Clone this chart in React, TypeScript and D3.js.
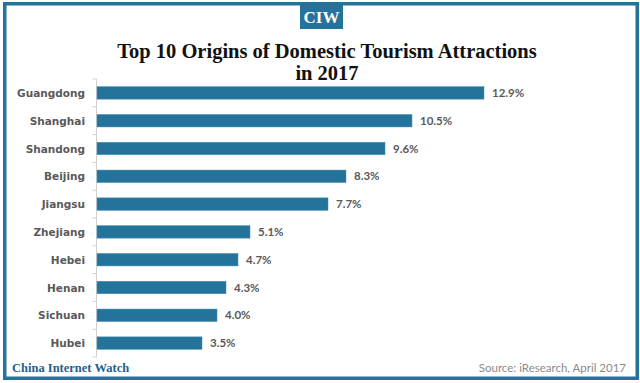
import React from "react";
import * as d3 from "d3";

const categories = ["Guangdong", "Shanghai", "Shandong", "Beijing", "Jiangsu", "Zhejiang", "Hebei", "Henan", "Sichuan", "Hubei"];
const values = [12.9, 10.5, 9.6, 8.3, 7.7, 5.1, 4.7, 4.3, 4.0, 3.5];
const titleLines = ["Top 10 Origins of Domestic Tourism Attractions", "in 2017"];
const brand = "CIW";
const footerLeft = "China Internet Watch";
const footerRight = "Source: iResearch, April 2017";

const W = 640, H = 383;
const BLUE = "#23739b";
const GREY = "#595959";

export default function App() {
  const x = d3.scaleLinear().domain([0, 1]).range([97, 127]);
  const y = d3.scaleBand<string>().domain(categories).range([79, 357]).paddingInner(0.55).paddingOuter(0.275);
  const step = y.step();
  const boundaries = d3.range(categories.length + 1).map((i) => 79 + i * step);
  const sans = "'Century Gothic', 'Lato', 'Open Sans', sans-serif";
  return (
    <svg width={W} height={H} style={{ position: "absolute", left: 0, top: 0, background: "#fff" }}>
      <rect x={0} y={0} width={W} height={H} fill="#fff" />
      <rect x={4.75} y={3.75} width={632.5} height={374.5} fill="none" stroke={BLUE} strokeWidth={3.5} />
      <rect x={300} y={4} width={43} height={25} fill={BLUE} />
      <text x={321.5} y={23} textAnchor="middle" fill="#fff" fontFamily="'Liberation Serif', serif" fontWeight="bold" fontSize={17}>{brand}</text>
      {titleLines.map((t, i) => (
        <text key={i} x={327} y={58 + i * 22} textAnchor="middle" fill="#111" fontFamily="'Liberation Serif', serif" fontWeight="bold" fontSize={20.5}>{t}</text>
      ))}
      <line x1={96.5} x2={96.5} y1={79} y2={357} stroke="#d0d0d0" strokeWidth={1} />
      {boundaries.map((b, i) => (
        <line key={i} x1={92.5} x2={96.5} y1={b} y2={b} stroke="#d0d0d0" strokeWidth={1} />
      ))}
      {categories.map((c, i) => {
        const yy = y(c)!;
        const bw = y.bandwidth();
        return (
          <g key={c}>
            <rect x={x(0)} y={yy} width={x(values[i]) - x(0)} height={bw} fill={BLUE} stroke="#4a93b8" strokeWidth={0.5} />
            <text x={85} y={yy + bw / 2 + 4} textAnchor="end" fill={GREY} fontFamily="'DejaVu Sans', sans-serif" fontWeight="bold" fontSize={10.5}>{c}</text>
            <text x={x(values[i]) + 8} y={yy + bw / 2 + 4} fill={GREY} fontFamily={sans} fontWeight="bold" fontSize={11.5}>{values[i].toFixed(1) + "%"}</text>
          </g>
        );
      })}
      <text x={12} y={372} fill="#1f5f8b" fontFamily="'Liberation Serif', serif" fontWeight="bold" fontSize={12.5}>{footerLeft}</text>
      <text x={626} y={372} textAnchor="end" fill="#8a8a8a" fontFamily={sans} fontSize={11.5}>{footerRight}</text>
    </svg>
  );
}
